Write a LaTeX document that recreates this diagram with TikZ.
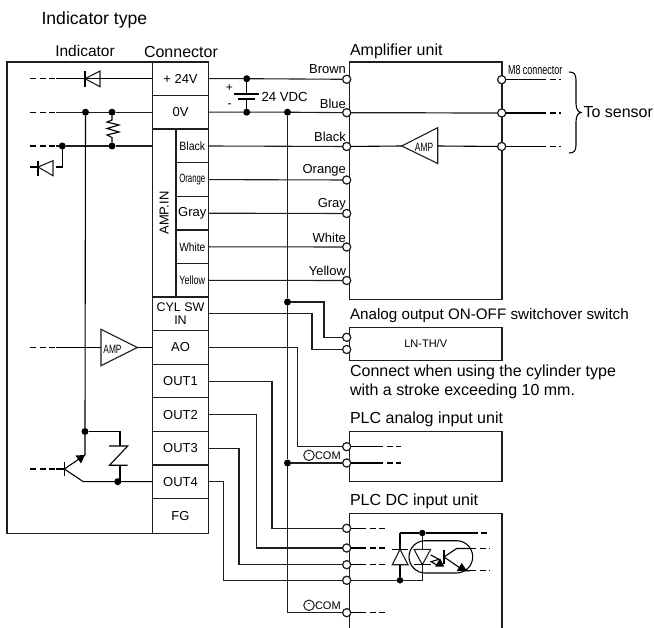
\documentclass[tikz,border=0pt]{standalone}
\usepackage{fontspec}
\usepackage{graphicx}
\setmainfont{Liberation Sans}
\usetikzlibrary{calc}
\newcommand{\fs}[1]{\fontsize{#1}{#1}\selectfont}
\newcommand{\nx}[2]{\scalebox{#1}[1]{#2}}
\definecolor{ink}{HTML}{1E1E1E}
\tikzset{
 x=1pt,y=-1pt,
 every path/.style={line width=1.1pt},
 wire/.style={line width=1.2pt,draw=ink,line join=miter},
 frame/.style={line width=1.4pt,draw=ink,fill=none},
 cell/.style={draw=ink,line width=1.2pt,rectangle,inner sep=0pt,outer sep=0pt,minimum width=56pt,align=center,text=black,font=\fs{13}},
 subcell/.style={draw=ink,line width=1.2pt,rectangle,inner sep=0pt,outer sep=0pt,minimum width=32.5pt,text=black,font=\fs{12}},
 term/.style={circle,draw=ink,fill=white,line width=1.1pt,minimum size=8pt,inner sep=0pt,outer sep=0pt},
 jdot/.style={circle,draw=none,fill=black,minimum size=7pt,inner sep=0pt,outer sep=0pt},
 wlabel/.style={anchor=east,inner sep=0pt,font=\fs{13},text=black},
 title/.style={anchor=west,inner sep=0pt,font=\fs{16},text=black},
 stub/.style={dash pattern=on 6pt off 3.5pt},
 diode/.style={line width=1.1pt,draw=ink,fill=white},
 tip/.style={fill=black},
}
\begin{document}
\begin{tikzpicture}
\useasboundingbox (0,0) rectangle (654,628);
\fill[white] (0,0) rectangle (654,628);

% ---- titles
\node[anchor=west,inner sep=0pt,font=\fs{17.6}] (ttl) at (41,20) {Indicator type};
\node[inner sep=0pt,font=\fs{15.5}] (lind) at (85,51) {Indicator};
\node[anchor=west,inner sep=0pt,font=\fs{16}] (lcon) at (143.5,51.5) {Connector};
\node[title] (lamp) at (349.5,51) {Amplifier unit};
\node[title,font=\fs{15.2}] (lsw) at (349.5,316) {Analog output ON-OFF switchover switch};
\node[title] (lnote1) at (349.5,372.5) {Connect when using the cylinder type};
\node[title] (lnote2) at (349.5,391.5) {with a stroke exceeding 10 mm.};
\node[title] (lana) at (349.5,419.5) {PLC analog input unit};
\node[title] (ldc) at (349.5,501.5) {PLC DC input unit};

% ---- connector cells
\node[cell,minimum height=33.5pt] (c24) at (180.5,78.7) {+ 24V};
\node[cell,minimum height=33.5pt] (c0) at (180.5,112.2) {0V};
\node[subcell,minimum height=33.6pt] (cbk) at (192.3,146) {\nx{.88}{Black}};
\node[subcell,minimum height=33.6pt] (cor) at (192.3,179.6) {\nx{.65}{Orange}};
\node[subcell,minimum height=33.6pt,font=\fs{13}] (cgy) at (192.3,213.2) {Gray};
\node[subcell,minimum height=33.6pt] (cwh) at (192.3,246.8) {\nx{.85}{White}};
\node[subcell,minimum height=33.6pt] (cyl) at (192.3,280.3) {\nx{.75}{Yellow}};
\node[draw=ink,line width=1.2pt,minimum width=23.7pt,minimum height=168pt,inner sep=0pt,outer sep=0pt] (camp) at (164.1,213) {\rotatebox{90}{\fs{13}AMP.IN}};
\node[cell,minimum height=33.6pt,font=\fs{12.5}] (ccy) at (180.5,313.8) {CYL SW\\[1pt]IN};
\node[cell,minimum height=33.6pt] (cao) at (180.5,347.5) {AO};
\node[cell,minimum height=33.6pt] (co1) at (180.5,381.1) {OUT1};
\node[cell,minimum height=33.6pt] (co2) at (180.5,414.7) {OUT2};
\node[cell,minimum height=33.6pt] (co3) at (180.5,448.2) {OUT3};
\node[cell,minimum height=33.6pt] (co4) at (180.5,481.7) {OUT4};
\node[cell,minimum height=35.5pt] (cfg) at (180.5,516) {FG};

% ---- unit boxes
\node[draw=ink,line width=1.4pt,minimum width=152.5pt,minimum height=237.5pt,inner sep=0pt,outer sep=0pt] (ampbox) at (425.7,180.7) {};
\node[draw=ink,line width=1.4pt,minimum width=152.5pt,minimum height=32.5pt,inner sep=0pt,outer sep=0pt,font=\fs{11}] (swbox) at (425.7,344) {LN-TH/V};
\node[draw=ink,line width=1.4pt,minimum width=152.5pt,minimum height=50pt,inner sep=0pt,outer sep=0pt] (anabox) at (425.7,456.7) {};
\draw[frame] (7,62) rectangle (152.5,533.7);
\draw[frame] (152.5,62) -- (208.5,62);
\draw[frame] (152.5,533.7) -- (208.5,533.7);
\draw[frame] (349.5,628) -- (349.5,513.3) -- (502,513.3) -- (502,628);

% ---- terminals
\foreach \n/\y in {tbr/79.3,tbl/112.7,tbk/146.5,tor/180,tgy/213.5,twh/247,tyl/280.5,tsa/337.3,tsb/349.5,tna/446.7,tnb/463,td1/528.3,td2/548,td3/564.7,td4/580.3,tdc/612.7}
  \node[term] (\n) at (346.7,\y) {};
\foreach \n/\y in {rbr/79.7,rbl/113,rbk/146.5}
  \node[term] (\n) at (501.7,\y) {};
\coordinate (ebr) at (561,79.7);\coordinate (ebl) at (561,113);\coordinate (ebk) at (561,146.5);

% ---- junctions
\node[jdot] (jb1) at (246.7,78.7) {};
\node[jdot] (jb2) at (246.7,112.2) {};
\node[jdot] (jbus) at (287.5,112.2) {};
\node[jdot] (jcyl) at (287.5,302) {};
\node[jdot] (jnb) at (287.5,463) {};
\node[jdot] (j0a) at (85.5,112.2) {};
\node[jdot] (j0b) at (112,112.2) {};
\node[jdot] (jka) at (62.3,146) {};
\node[jdot] (jkb) at (112,146) {};
\node[jdot] (jtr) at (85,431.5) {};
\node[jdot] (jem) at (117.7,481.7) {};

% ---- wires to amplifier
\begin{scope}[wire]
\draw (c24.east) -- (jb1) -- (tbr);
\draw (c0.east) -- (jb2) -- (jbus) -- (tbl);
\draw (cbk.east) -- (tbk);
\draw (cor.east) -- (tor);
\draw (cgy.east) -- (tgy);
\draw (cwh.east) -- (twh);
\draw (cyl.east) -- (tyl);
\draw (jbus) -- (jcyl) -- (jnb) -- (287.5,612.7) -- (tdc);
\draw (jcyl) -| (324,337.3) -- (tsa);
\draw (ccy.east) -| (312,349.5) -- (tsb);
\draw (cao.east) -| (297.7,446.7) -- (tna);
\draw (jnb) -- (tnb);
\draw (co1.east) -| (272,528.3) -- (td1);
\draw (co2.east) -| (256.3,548) -- (td2);
\draw (co3.east) -| (239,564.7) -- (td3);
\draw (co4.east) -| (223.7,580.3) -- (td4);
\end{scope}

% ---- battery
\draw (jb1) -- (246.7,94) (jb2) -- (246.7,99);
\draw[line width=1.2pt] (234,94) -- (259,94);
\draw[line width=1.2pt] (238,99) -- (255,99);
\node[inner sep=0pt,font=\fs{12}] (bp) at (229.5,88) {+};
\node[inner sep=0pt,font=\fs{12}] (bm) at (229.5,106) {-};
\node[anchor=west,inner sep=0pt,font=\fs{13.2}] (bv) at (261,97) {24 VDC};

% ---- wire colour labels
\node[wlabel] (w1) at (346.5,69.5) {Brown};
\node[wlabel] (w2) at (346.5,103.5) {Blue};
\node[wlabel] (w3) at (346.5,136.5) {Black};
\node[wlabel] (w4) at (346.5,170.5) {Orange};
\node[wlabel] (w5) at (346.5,204.5) {Gray};
\node[wlabel] (w6) at (346.5,238) {White};
\node[wlabel] (w7) at (346.5,271) {Yellow};

% ---- amplifier interior
\node[inner sep=0pt] (aamp) at (424,147) {\nx{.7}{\fs{12}AMP}};
\draw[diode,fill=none] (401.7,146) -- (437.7,127.7) -- (437.7,163.5) -- cycle;
\draw (tbk) -- (401.7,146);
\draw (437.7,146) -- (rbk);
\draw[wire] (tbl) -- (rbl);
\draw (rbr) -- (540,79.7);\draw[stub] (540,79.7) -- (ebr);
\draw (rbl) -- (540,113);\draw[stub] (540,113) -- (ebl);
\draw (rbk) -- (540,146.5);\draw[stub] (540,146.5) -- (ebk);
\node[anchor=south west,inner sep=0pt] (m8) at (507.5,75) {\nx{.69}{\fs{13}M8 connector}};
\draw (569,72) .. controls (574,72) and (576,74) .. (576,80) -- (576,103) .. controls (576,109) and (578,112) .. (581,112.5) .. controls (578,113) and (576,116) .. (576,122) -- (576,145) .. controls (576,151) and (574,153) .. (569,153);
\node[anchor=west,inner sep=0pt,font=\fs{16}] (tos) at (583,112.5) {To sensor};

% ---- terminals on top
\foreach \n in {tbr,tbl,tbk,tor,tgy,twh,tyl,tsa,tsb,tna,tnb,td1,td2,td3,td4,tdc,rbr,rbl,rbk}
  \node[term] at (\n) {};

% ---- indicator interior
\foreach \y in {78.7,112.2,146,347.5}{\draw[stub] (30,\y) -- (56,\y);}
\draw (56,78.7) -- (c24.west);
\draw[diode,fill=none] (85,78.7) -- (100,71) -- (100,86.7) -- cycle;
\draw (85,71) -- (85,86.7);
\draw[wire] (56,112.2) -- (j0a) -- (j0b) -- (c0.west);
\draw[wire] (56,146) -- (jka) -- (jkb) -- (camp.west |- jkb);
\draw (j0b) -- (112,120) -- (107,122) -- (119,125) -- (107,128.5) -- (119,132) -- (107,135) -- (112,137.5) -- (jkb);
\draw (jka) |- (56,167);
\draw[diode,fill=none] (38,167) -- (53,160.7) -- (53,175.7) -- cycle;
\draw (38,160.7) -- (38,175.7);
\draw (30,167) -- (38,167);
\draw (j0a) -- (jtr) -- (85,455);
\draw (56,347.5) -- (101,347.5);
\draw[diode,fill=none] (101,329.3) -- (137.3,347.5) -- (101,365.7) -- cycle;
\node[inner sep=0pt] (iamp) at (112.5,349.5) {\nx{.7}{\fs{12}AMP}};
\draw (137.3,347.5) -- (cao.west);
% transistor
\draw[stub] (30,469) -- (56,469);
\draw (56,469) -- (64.3,469);
\draw (64.3,462) -- (64.3,475.7);
\draw (64.3,469) -- (85,455);
\fill[tip] (85,455) -- (75.5,455.5) -- (81,463.5) -- cycle;
\draw (64.3,469) -- (83.3,481.7) -- (jem) -- (co4.west);
\draw (jtr) -| (120,446);
\draw (109,446) -- (127.7,446) -- (109.5,465.3) -- (127.7,465.3);
\draw (120,465.3) -- (120,481.7);

% ---- analog unit
\draw (tna) -- (377,446.7);\draw[stub] (377,446.7) -- (401,446.7);
\draw (tnb) -- (377,463);\draw[stub] (377,463) -- (401,463);
\node[circle,draw=ink,line width=1pt,minimum size=10.5pt,inner sep=0pt] (com1) at (309,455.3) {};
\node[inner sep=0pt,font=\fs{9}] (com1m) at (309,455) {-};
\node[anchor=west,inner sep=0pt,font=\fs{11}] (com1t) at (314.5,455.3) {COM};

% ---- DC unit
\draw (td1) -- (360,528.3);\draw[stub] (360,528.3) -- (385,528.3);
\draw (td2) -- (360,548);\draw[stub] (360,548) -- (385,548);
\draw (td3) -- (360,564.7);\draw[stub] (360,564.7) -- (385,564.7);
\draw (tdc) -- (360,612.7);\draw[stub] (360,612.7) -- (385,612.7);
\node[circle,draw=ink,line width=1pt,minimum size=10.5pt,inner sep=0pt] (com2) at (309,605.3) {};
\node[inner sep=0pt,font=\fs{9}] (com2m) at (309,605) {-};
\node[anchor=west,inner sep=0pt,font=\fs{11}] (com2t) at (314.5,605.3) {COM};

% ---- optocoupler
\node[jdot,minimum size=6.5pt] (jo1) at (422.3,533) {};
\node[jdot,minimum size=6.5pt] (jo2) at (400,580.3) {};
\draw (400,533) -- (jo1) -- (471.7,533);
\draw[stub] (471.7,533) -- (490,533);
\draw (400,533) -- (jo2);
\draw[wire] (td4) -- (jo2) -- (422.3,580.3) -- (jo1);
\draw[rounded corners=16.2pt] (409,540.7) rectangle (472.7,573);
\draw[diode] (400,549.3) -- (408,564.7) -- (392.3,564.7) -- cycle;
\draw (392.3,549.3) -- (408,549.3);
\draw[diode] (414,549.3) -- (430.7,549.3) -- (422.3,564.7) -- cycle;
\draw (414,564.7) -- (430.7,564.7);
\draw (444,550) -- (444,564.3);
\draw (444,557) -- (456.7,548.5) -- (470,548.5);
\draw[stub] (470,548.5) -- (490,548.5);
\draw (444,557) -- (464,570.7) -- (470,570.7);
\draw[stub] (470,570.7) -- (490,570.7);
\fill[tip] (456.7,571) -- (467,571) -- (461.7,563) -- cycle;
\draw (430.7,555) -- (439,559.3) -- (431,561.7) -- (438.3,565.7);
\fill[tip] (435,566.7) -- (444.3,566.7) -- (440,558.3) -- cycle;
\end{tikzpicture}
\end{document}
